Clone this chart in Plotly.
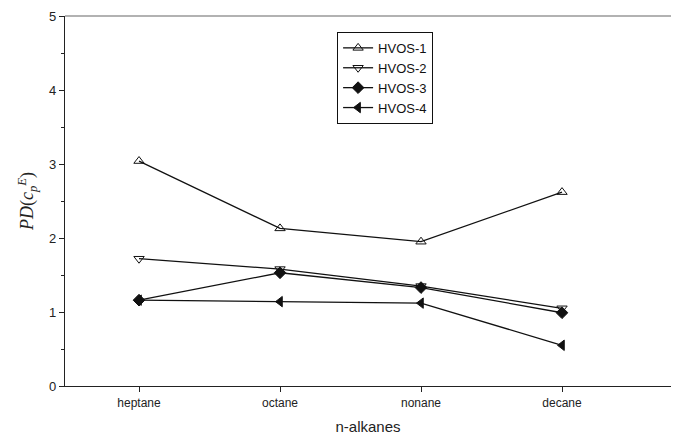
import plotly.graph_objects as go

categories = ["heptane", "octane", "nonane", "decane"]
hvos1 = [3.04, 2.13, 1.95, 2.62]
hvos2 = [1.72, 1.58, 1.35, 1.05]
hvos3 = [1.16, 1.53, 1.33, 0.99]
hvos4 = [1.16, 1.14, 1.12, 0.55]
y_ticks = [0, 1, 2, 3, 4, 5]

series = [
    ("HVOS-1", hvos1, "triangle-up-open"),
    ("HVOS-2", hvos2, "triangle-down-open"),
    ("HVOS-3", hvos3, "diamond"),
    ("HVOS-4", hvos4, "triangle-left"),
]

fig = go.Figure()
xs = list(range(len(categories)))
for name, vals, sym in series:
    fig.add_trace(go.Scatter(
        x=xs, y=vals, name=name, mode="lines+markers",
        line=dict(color="#111111", width=1.3),
        marker=dict(symbol=sym, size=9, color="#111111",
                    line=dict(color="#111111", width=1)),
    ))

fig.update_layout(
    width=663, height=427,
    margin=dict(l=57, r=0, t=8, b=49),
    paper_bgcolor="white", plot_bgcolor="white",
    font=dict(family="Liberation Sans, Arial, sans-serif", color="#222222", size=12),
    showlegend=True,
    legend=dict(x=0.449, y=0.957, xanchor="left", yanchor="top",
                bordercolor="#111111", borderwidth=1, bgcolor="white",
                font=dict(size=13, color="#111111"),
                tracegroupgap=0, itemwidth=30),
)

fig.update_xaxes(
    range=[-0.525, 3.773],
    tickmode="array", tickvals=xs, ticktext=categories,
    showgrid=False, zeroline=False,
    showline=True, linecolor="#222222", linewidth=1.2,
    ticks="outside", ticklen=5, tickcolor="#222222",
    tickfont=dict(size=12),
    title=dict(text="n-alkanes", font=dict(size=15, color="#222222"), standoff=15),
)
fig.update_yaxes(
    range=[0, 5],
    tickmode="array", tickvals=y_ticks,
    showgrid=False, zeroline=False,
    showline=True, linecolor="#222222", linewidth=1.2,
    ticks="outside", ticklen=5, tickcolor="#222222",
    tickfont=dict(size=13),
    minor=dict(dtick=0.5, ticks="outside", ticklen=3, tickcolor="#222222", showgrid=False),
    title=dict(text="<i>PD</i>(<i>c</i><sub><i>p</i></sub><sup><i>E</i></sup>)",
               font=dict(family="Liberation Serif, Times New Roman, serif", size=18, color="#222222"),
               standoff=10),
)

fig.add_shape(type="line", xref="paper", yref="paper", x0=0, x1=1, y0=1, y1=1,
              line=dict(color="#999999", width=1.5))

fig.write_html("out.html")
